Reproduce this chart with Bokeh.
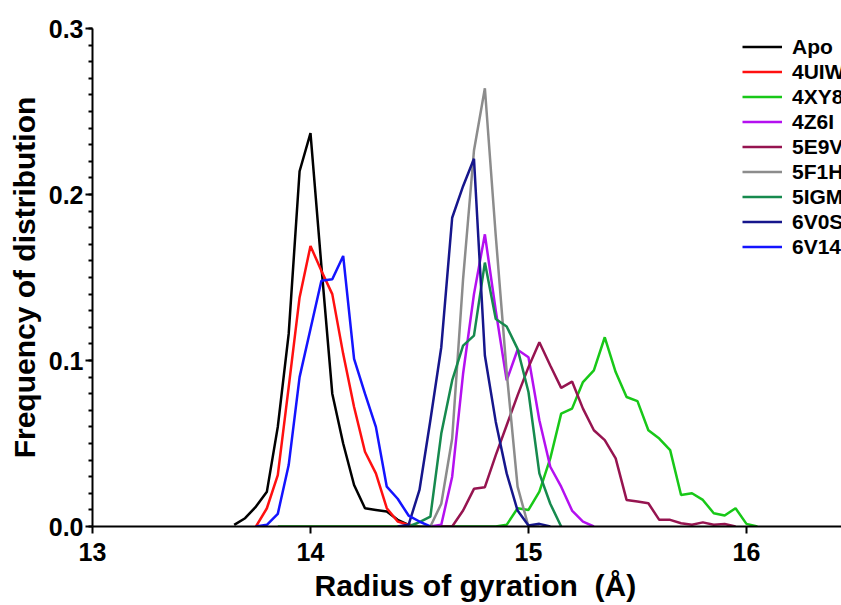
from bokeh.plotting import figure
from bokeh.models import Range1d, FixedTicker, PrintfTickFormatter, Legend, LegendItem
from bokeh.embed import file_html
from bokeh.resources import INLINE

# Radius-of-gyration histograms (bin width 0.05 Å), one per structure
apo_r = [13.65, 13.70, 13.75, 13.80, 13.85, 13.90, 13.95, 14.00, 14.05, 14.10,
         14.15, 14.20, 14.25, 14.30, 14.35, 14.40, 14.45, 14.50]
apo_f = [0.001, 0.005, 0.012, 0.021, 0.060, 0.116, 0.214, 0.237, 0.157, 0.080,
         0.050, 0.025, 0.011, 0.010, 0.009, 0.004, 0.001, 0.000]

uiw_r = [13.75, 13.80, 13.85, 13.90, 13.95, 14.00, 14.05, 14.10, 14.15, 14.20,
         14.25, 14.30, 14.35, 14.40, 14.45, 14.50]
uiw_f = [0.000, 0.011, 0.031, 0.084, 0.138, 0.169, 0.154, 0.140, 0.104, 0.072,
         0.045, 0.032, 0.011, 0.003, 0.001, 0.000]

xy8_r = [13.85, 13.90, 13.95, 14.00, 14.05, 14.10, 14.15, 14.20, 14.25, 14.30,
         14.35, 14.40, 14.45, 14.50, 14.55, 14.60, 14.65, 14.70, 14.75, 14.80,
         14.85, 14.90, 14.95, 15.00, 15.05, 15.10, 15.15, 15.20, 15.25, 15.30,
         15.35, 15.40, 15.45, 15.50, 15.55, 15.60, 15.65, 15.70, 15.75, 15.80,
         15.85, 15.90, 15.95, 16.00, 16.05]
xy8_f = [0.000, 0.000, 0.000, 0.000, 0.000, 0.000, 0.000, 0.000, 0.000, 0.000,
         0.000, 0.000, 0.000, 0.000, 0.000, 0.000, 0.000, 0.000, 0.000, 0.000,
         0.000, 0.001, 0.011, 0.010, 0.021, 0.041, 0.068, 0.071, 0.087, 0.094,
         0.114, 0.093, 0.078, 0.0755, 0.058, 0.053, 0.046, 0.019, 0.020, 0.016,
         0.008, 0.0066, 0.011, 0.0016, 0.000]

z6i_r = [14.55, 14.60, 14.65, 14.70, 14.75, 14.80, 14.85, 14.90, 14.95, 15.00,
         15.05, 15.10, 15.15, 15.20, 15.25, 15.30]
z6i_f = [0.000, 0.001, 0.030, 0.092, 0.140, 0.176, 0.130, 0.088, 0.1065, 0.102,
         0.064, 0.036, 0.024, 0.0096, 0.003, 0.000]

e9v_r = [14.60, 14.65, 14.70, 14.75, 14.80, 14.85, 14.90, 14.95, 15.00, 15.05,
         15.10, 15.15, 15.20, 15.25, 15.30, 15.35, 15.40, 15.45, 15.50, 15.55,
         15.60, 15.65, 15.70, 15.75, 15.80, 15.85, 15.90, 15.95]
e9v_f = [0.000, 0.000, 0.0096, 0.0227, 0.0237, 0.043, 0.061, 0.079, 0.096, 0.111,
         0.097, 0.0835, 0.0873, 0.071, 0.058, 0.052, 0.041, 0.016, 0.015, 0.014,
         0.004, 0.004, 0.002, 0.001, 0.0025, 0.001, 0.0015, 0.000]

f1h_r = [14.50, 14.55, 14.60, 14.65, 14.70, 14.75, 14.80, 14.85, 14.90, 14.95,
         15.00, 15.05]
f1h_f = [0.000, 0.000, 0.0137, 0.053, 0.149, 0.2265, 0.264, 0.175, 0.093, 0.024,
         0.000, 0.000]

igm_r = [14.45, 14.50, 14.55, 14.60, 14.65, 14.70, 14.75, 14.80, 14.85, 14.90,
         14.95, 15.00, 15.05, 15.10, 15.15]
igm_f = [0.000, 0.0026, 0.006, 0.056, 0.088, 0.109, 0.115, 0.159, 0.125, 0.1205,
         0.107, 0.081, 0.032, 0.0137, 0.000]

v0s_r = [14.40, 14.45, 14.50, 14.55, 14.60, 14.65, 14.70, 14.75, 14.80, 14.85,
         14.90, 14.95, 15.00, 15.05, 15.10]
v0s_f = [0.000, 0.001, 0.022, 0.064, 0.108, 0.186, 0.205, 0.2215, 0.103, 0.063,
         0.032, 0.0096, 0.0006, 0.0016, 0.000]

v14_r = [13.75, 13.80, 13.85, 13.90, 13.95, 14.00, 14.05, 14.10, 14.15, 14.20,
         14.25, 14.30, 14.35, 14.40, 14.45, 14.50, 14.55]
v14_f = [0.000, 0.001, 0.0076, 0.037, 0.090, 0.119, 0.148, 0.149, 0.163, 0.101,
         0.080, 0.060, 0.024, 0.0167, 0.0066, 0.003, 0.000]

names = ["Apo", "4UIW", "4XY8", "4Z6I", "5E9V", "5F1H", "5IGM", "6V0S", "6V14"]
colors = ["#000000", "#ff1010", "#18c818", "#b410f0", "#961450",
          "#8c8c8c", "#168a4e", "#16168c", "#1414ff"]
series = [(apo_r, apo_f), (uiw_r, uiw_f), (xy8_r, xy8_f), (z6i_r, z6i_f),
          (e9v_r, e9v_f), (f1h_r, f1h_f), (igm_r, igm_f), (v0s_r, v0s_f),
          (v14_r, v14_f)]

x_ticks = [13, 14, 15, 16]
y_ticks = [0.0, 0.1, 0.2, 0.3]
y_minor = [k / 100 for k in range(0, 31)]

FONT = "Liberation Sans"

p = figure(width=841, height=605, output_backend="svg", toolbar_location=None,
           x_range=Range1d(13, 16.436), y_range=Range1d(0, 0.3),
           min_border_left=92, min_border_right=0, min_border_top=28,
           min_border_bottom=79)
p.outline_line_color = None
p.xgrid.visible = False
p.ygrid.visible = False
p.background_fill_color = "white"

items = []
for name, color, (r, f) in zip(names, colors, series):
    ln = p.line(r, f, line_color=color, line_width=2.5)
    items.append(LegendItem(label=name, renderers=[ln]))

legend = Legend(items=items, location=(650, 267), padding=0, margin=0, spacing=0,
                glyph_width=40, glyph_height=25, label_height=25, label_standoff=10,
                border_line_alpha=0, background_fill_alpha=0,
                label_text_font=FONT, label_text_font_style="bold",
                label_text_font_size="21px", label_text_color="black")
p.add_layout(legend)

for ax in (p.xaxis[0], p.yaxis[0]):
    ax.axis_line_width = 2
    ax.axis_line_color = "black"
    ax.major_tick_line_width = 2
    ax.minor_tick_line_width = 2
    ax.major_tick_in = 0
    ax.major_tick_out = 7
    ax.minor_tick_in = 0
    ax.minor_tick_out = 4
    ax.major_label_text_font = FONT
    ax.major_label_text_font_style = "bold"
    ax.major_label_text_font_size = "25px"
    ax.major_label_text_color = "black"
    ax.axis_label_text_font = FONT
    ax.axis_label_text_font_style = "bold"
    ax.axis_label_text_font_size = "30px"
    ax.axis_label_text_color = "black"

p.xaxis.ticker = FixedTicker(ticks=x_ticks)
p.xaxis.minor_tick_line_color = None
p.xaxis.major_label_standoff = 9
p.xaxis.axis_label = "\u00a0\u00a0Radius of gyration\u00a0 (Å)"
p.xaxis.axis_label_standoff = 5

p.yaxis.ticker = FixedTicker(ticks=y_ticks, minor_ticks=y_minor)
p.yaxis.formatter = PrintfTickFormatter(format="%.1f")
p.yaxis.major_label_standoff = 2
p.yaxis.axis_label = "Frequency of distribution"
p.yaxis.axis_label_standoff = 5

open("out.html", "w").write(file_html(p, INLINE))
